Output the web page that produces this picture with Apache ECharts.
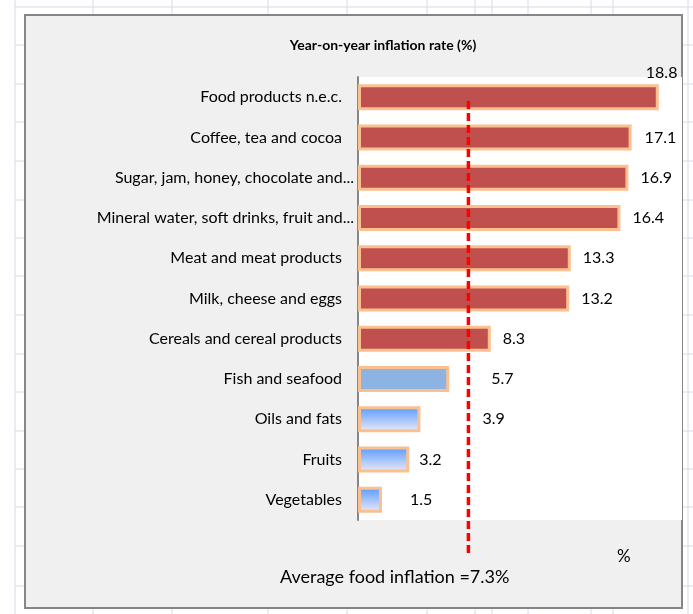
<!DOCTYPE html>
<html>
<head>
<meta charset="utf-8">
<script src="https://cdn.jsdelivr.net/npm/echarts@6/dist/echarts.min.js"></script>
<style>
  html, body { margin: 0; padding: 0; background: #fff; }
  #chart { width: 693px; height: 614px; }
</style>
</head>
<body>
<div id="chart"></div>
<script>
// data
const categories = [
  'Food products n.e.c.',
  'Coffee, tea and cocoa',
  'Sugar, jam, honey, chocolate and...',
  'Mineral water, soft drinks, fruit and...',
  'Meat and meat products',
  'Milk, cheese and eggs',
  'Cereals and cereal products',
  'Fish and seafood',
  'Oils and fats',
  'Fruits',
  'Vegetables'
]
const inflation = [18.8, 17.1, 16.9, 16.4, 13.3, 13.2, 8.3, 5.7, 3.9, 3.2, 1.5]
const avgInflation = 7.3
const avgLineAt = 6.9 // where the dashed line actually sits on the scale

const FONT = "Lato, 'DejaVu Sans Condensed', sans-serif"
const BORDER = '#fac090'

// labels that were dragged around by hand in the original
const labelOffsets = { 0: [-25, -24], 1: [1, 0], 7: [30, 0], 8: [50, 0], 9: [-2, 0], 10: [16, 0] }

const blueGradient = new echarts.graphic.LinearGradient(0, 0, 0, 1, [
  { offset: 0, color: '#5599ff' },
  { offset: 1, color: '#f2ecf6' }
])

const barFill = (i) => {
  if (i < 7) return '#c0504d'
  if (i === 7) return '#8db3e2'
  return blueGradient
}

const barData = inflation.map((v, i) => ({
  value: v,
  itemStyle: { color: barFill(i) },
  label: { offset: labelOffsets[i] || [0, 0] }
}))

// spreadsheet cell lines behind the chart object
const colLines = [15, 93, 172, 268, 347, 427, 475, 492, 528, 591, 613, 688]
const rowLines = [7, 45, 84, 122, 161, 200, 238, 276, 315, 354, 392, 431, 469, 507, 546, 586]
const sheet = []
colLines.forEach(x => sheet.push({
  type: 'line', z: -10, silent: true,
  shape: { x1: x, y1: 0, x2: x, y2: 614 },
  style: { stroke: '#d4dbe8', lineWidth: 1 }
}))
rowLines.forEach(y => sheet.push({
  type: 'line', z: -10, silent: true,
  shape: { x1: 15, y1: y, x2: 693, y2: y },
  style: { stroke: '#d4dbe8', lineWidth: 1 }
}))

const chart = echarts.init(document.getElementById('chart'), null, { renderer: 'canvas' })

const option = {
  animation: false,
  backgroundColor: '#fff',
  graphic: [
    ...sheet,
    {
      type: 'rect', z: -5, silent: true,
      shape: { x: 25, y: 15, width: 657, height: 593 },
      style: { fill: '#f0f0f0', stroke: '#868686', lineWidth: 2 }
    },
    {
      type: 'text', silent: true, x: 383, y: 45,
      style: {
        text: 'Year-on-year inflation rate (%)', font: 'bold 14px ' + FONT, fill: '#000',
        align: 'center', verticalAlign: 'middle'
      }
    },
    {
      type: 'text', silent: true, x: 280, y: 577,
      style: {
        text: 'Average food inflation =' + avgInflation + '%', font: '18px ' + FONT, fill: '#000',
        verticalAlign: 'middle'
      }
    },
    {
      type: 'text', silent: true, x: 617, y: 557,
      style: { text: '%', font: '17px ' + FONT, fill: '#000', verticalAlign: 'middle' }
    }
  ],
  grid: [
    { left: 358, right: 11, top: 77, height: 443, show: true, backgroundColor: '#fff', borderWidth: 0 },
    { left: 358, right: 11, top: 100, bottom: 61 }
  ],
  xAxis: [
    { type: 'value', gridIndex: 0, min: 0, max: 20.25, show: false },
    { type: 'value', gridIndex: 1, min: 0, max: 20.25, show: false }
  ],
  yAxis: [
    {
      type: 'category',
      gridIndex: 0,
      inverse: true,
      data: categories,
      axisLine: { show: true, lineStyle: { color: '#868686', width: 2 } },
      axisTick: { show: false },
      axisLabel: {
        margin: 4,
        color: '#000',
        fontFamily: FONT,
        fontSize: 16,
        formatter: (v) => v.endsWith('...') ? '{t|' + v + '}' : '{n|' + v + '}',
        rich: {
          t: { fontFamily: FONT, fontSize: 16, color: '#000' },
          n: { fontFamily: FONT, fontSize: 16, color: '#000', padding: [0, 12, 0, 0] }
        }
      }
    },
    { type: 'value', gridIndex: 1, min: 0, max: 1, show: false }
  ],
  series: [
    {
      type: 'bar',
      xAxisIndex: 0,
      yAxisIndex: 0,
      barWidth: 26,
      data: barData,
      itemStyle: { borderColor: BORDER, borderWidth: 3 },
      label: {
        show: true,
        position: 'right',
        distance: 12,
        color: '#000',
        fontFamily: FONT,
        fontSize: 16
      }
    },
    {
      type: 'line',
      xAxisIndex: 1,
      yAxisIndex: 1,
      showSymbol: false,
      z: 5,
      data: [[avgLineAt, 0], [avgLineAt, 1]],
      lineStyle: { color: '#ff0000', width: 3.5, type: [8, 4] }
    }
  ]
}

chart.setOption(option)
</script>
</body>
</html>
